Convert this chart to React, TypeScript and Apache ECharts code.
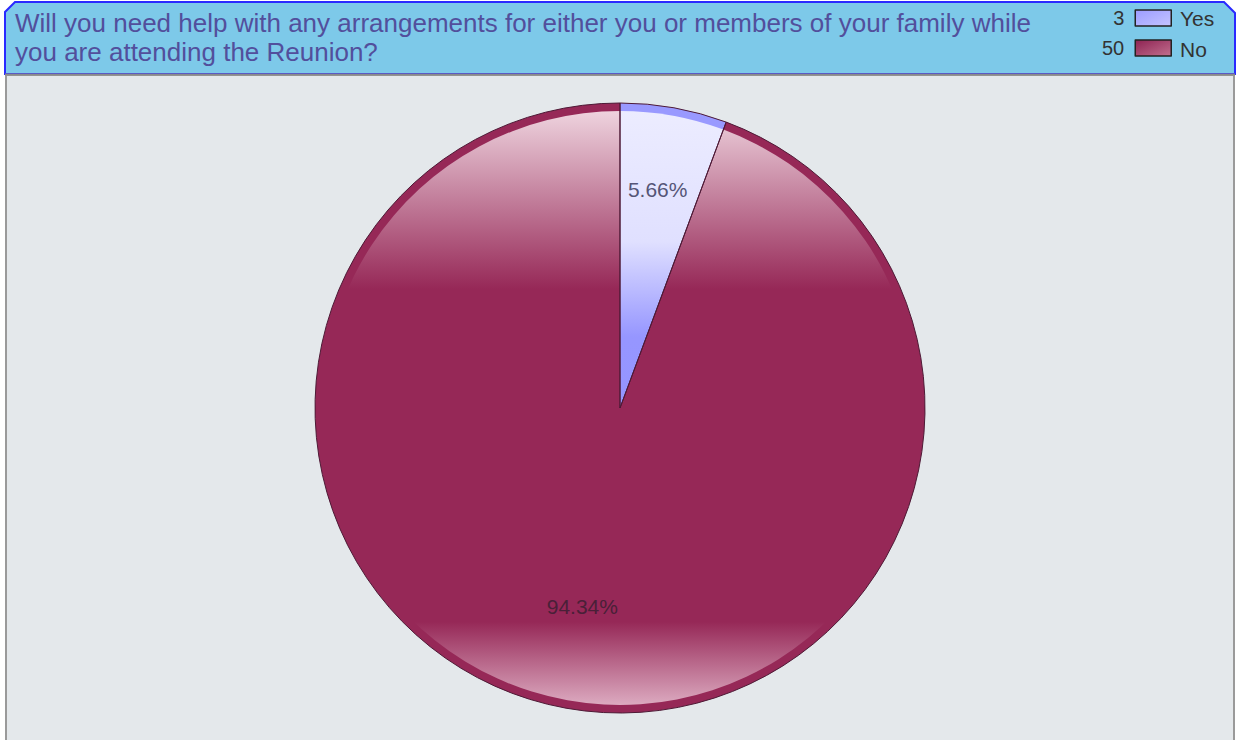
import React, { useEffect, useRef } from 'react';
import * as echarts from 'echarts';

const categories = ['Yes', 'No'];
const counts = [3, 50];
const titleLines = [
  'Will you need help with any arrangements for either you or members of your family while',
  'you are attending the Reunion?',
];

const baseColors = ['#9999ff', '#962857'];
const FONT = 'Liberation Sans, Arial, sans-serif';

function innerGradient(i: number) {
  const stops =
    i === 0
      ? [
          { offset: 0, color: '#ececff' },
          { offset: 0.22, color: '#e0e0ff' },
          { offset: 0.38, color: '#9696ff' },
          { offset: 1, color: '#9090ff' },
        ]
      : [
          { offset: 0, color: '#eed3de' },
          { offset: 0.3, color: '#962857' },
          { offset: 0.86, color: '#962857' },
          { offset: 1, color: '#dcaac0' },
        ];
  return { type: 'linear', x: 620, y: 111, x2: 620, y2: 705, global: true, colorStops: stops };
}

function legendIcon(i: number) {
  const c =
    i === 0
      ? [{ offset: 0, color: '#9c9cff' }, { offset: 1, color: '#c4c4ff' }]
      : [{ offset: 0, color: '#8d2252' }, { offset: 1, color: '#c2708f' }];
  return {
    color: { type: 'linear', x: 0, y: 0, x2: 1, y2: 1, colorStops: c },
    borderColor: '#222',
    borderWidth: 1.5,
  };
}

export default function App() {
  const ref = useRef<HTMLDivElement>(null);
  useEffect(() => {
    if (!ref.current) return;
    const chart = echarts.init(ref.current, undefined, { renderer: 'svg' });
    const data = categories.map((c, i) => ({ name: c, value: counts[i] }));
    const center = [620, 408];
    chart.setOption({
      animation: false,
      backgroundColor: '#ffffff',
      title: {
        text: titleLines.join('\n'),
        left: 10,
        top: 3,
        textStyle: { fontFamily: FONT, fontSize: 26, lineHeight: 29, fontWeight: 'normal', color: '#524f9c' },
      },
      legend: [
        {
          orient: 'vertical',
          right: 60,
          top: 3,
          align: 'right',
          itemWidth: 36,
          itemHeight: 16,
          itemGap: 10,
          selectedMode: false,
          icon: 'rect',
          formatter: (name: string) => String(counts[categories.indexOf(name)]),
          textStyle: { fontFamily: FONT, fontSize: 20, lineHeight: 16, color: '#333', padding: [0, 6, 0, 0] },
          data: categories.map((c, i) => ({ name: c, itemStyle: legendIcon(i) })),
        },
        {
          orient: 'vertical',
          left: 1170,
          top: 3,
          itemWidth: 0,
          itemHeight: 16,
          itemGap: 10,
          selectedMode: false,
          icon: 'rect',
          textStyle: { fontFamily: FONT, fontSize: 21, lineHeight: 16, color: '#333' },
          data: categories.map((c) => ({ name: c, itemStyle: { opacity: 0, borderWidth: 0 } })),
        },
      ],
      graphic: [
        {
          type: 'rect',
          z: -10,
          shape: { x: 6, y: 75, width: 1228, height: 670 },
          style: { fill: '#e4e8eb', stroke: '#9a9a9a', lineWidth: 2 },
        },
        {
          type: 'polygon',
          z: -9,
          shape: { points: [[5, 74], [5, 12], [15, 2], [1224, 2], [1235, 13], [1235, 74]] },
          style: { fill: '#7dc9e9', stroke: '#2a2aff', lineWidth: 2 },
        },
        {
          type: 'line',
          z: -8,
          shape: { x1: 5, y1: 74.5, x2: 1235, y2: 74.5 },
          style: { stroke: '#8a8a8a', lineWidth: 2 },
        },
      ],
      series: [
        {
          type: 'pie',
          center,
          radius: 305,
          silent: true,
          label: { show: false },
          labelLine: { show: false },
          data: data.map((d, i) => ({ ...d, itemStyle: { color: baseColors[i] } })),
        },
        {
          type: 'pie',
          center,
          radius: 297,
          silent: true,
          label: { show: false },
          labelLine: { show: false },
          data: data.map((d, i) => ({ ...d, itemStyle: { color: innerGradient(i) } })),
        },
        {
          type: 'pie',
          center,
          radius: 305,
          silent: true,
          label: { show: false },
          labelLine: { show: false },
          itemStyle: { color: 'rgba(0,0,0,0)', borderColor: '#4e1a36', borderWidth: 1 },
          data,
        },
        {
          type: 'pie',
          center,
          radius: [115, 305],
          silent: true,
          labelLine: { show: false },
          itemStyle: { color: 'rgba(0,0,0,0)', borderWidth: 0 },
          label: {
            show: true,
            position: 'inside',
            formatter: '{d}%',
            fontFamily: FONT,
            fontSize: 21,
          },
          labelLayout: (p: any) => ({ dy: p.dataIndex === 0 ? -9 : -11 }),
          data: data.map((d, i) => ({
            ...d,
            label: { color: i === 0 ? '#555577' : '#4a2038' },
          })),
        },
      ],
    });
    return () => chart.dispose();
  }, []);
  return <div ref={ref} style={{ position: 'fixed', left: 0, top: 0, width: 1237, height: 740 }} />;
}
